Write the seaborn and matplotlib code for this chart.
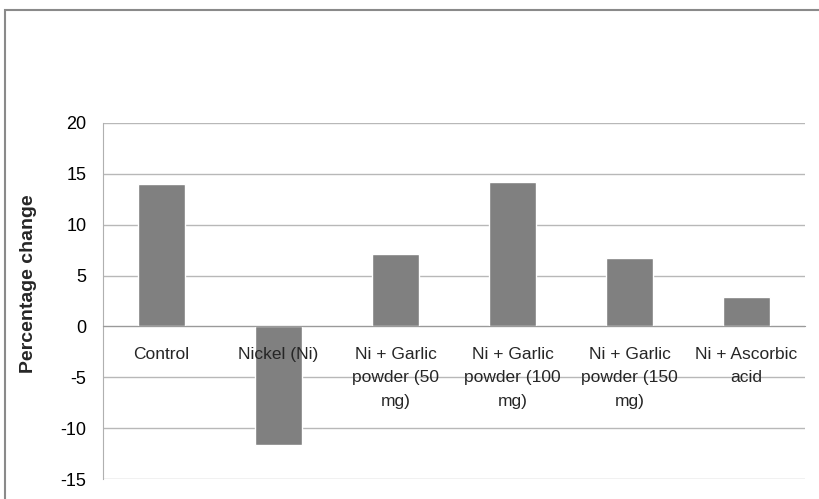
import matplotlib
matplotlib.use("Agg")
import matplotlib.pyplot as plt
import seaborn as sns
import pandas as pd
from matplotlib.patches import Rectangle
from matplotlib.ticker import FixedLocator

categories = ["Control", "Nickel (Ni)", "Ni + Garlic\npowder (50\nmg)",
              "Ni + Garlic\npowder (100\nmg)", "Ni + Garlic\npowder (150\nmg)",
              "Ni + Ascorbic\nacid"]
values = [14.0, -11.7, 7.1, 14.2, 6.7, 2.9]
yticks = [-15, -10, -5, 0, 5, 10, 15, 20]
ylabel = "Percentage change"

sns.set_style("white")
plt.rcParams['font.family'] = ['Liberation Sans', 'DejaVu Sans']

df = pd.DataFrame({"cat": categories, "val": values})

fig = plt.figure(figsize=(8.2, 4.99), dpi=100)
ax = fig.add_axes([103/820, 1-479/499, (805-103)/820, (479-123)/499])

sns.barplot(data=df, x="cat", y="val", color="#808080", saturation=1,
            width=0.4, ax=ax, zorder=3)

ax.set_ylim(-15, 20)
ax.set_xlim(-0.5, len(categories)-0.5)
ax.set_yticks(yticks)
ax.set_yticklabels([str(t) for t in yticks], fontsize=13, color="#000000")
ax.grid(axis="y", color="#b8b8b8", linewidth=1.0, zorder=0)
ax.set_axisbelow(True)

for s in ["top", "right"]:
    ax.spines[s].set_visible(False)
ax.spines["left"].set_color("#b0b0b0")
ax.spines["left"].set_zorder(4)
ax.spines["bottom"].set_position(("data", 0))
ax.spines["bottom"].set_color("#9a9a9a")
ax.spines["bottom"].set_zorder(4)

ax.tick_params(axis="y", length=6, width=1, color="#b0b0b0", pad=6, direction="out")
ax.tick_params(axis="x", which="major", length=0, pad=15, labelsize=12.5)
ax.xaxis.set_minor_locator(FixedLocator([i - 0.5 for i in range(len(categories)+1)]))
ax.tick_params(axis="x", which="minor", length=5, width=1, color="#9a9a9a", direction="out")
ax.xaxis.set_zorder(6)
for lab in ax.get_xticklabels():
    lab.set_linespacing(1.68)
    lab.set_verticalalignment("top")

ax.set_xlabel("")
ax.set_ylabel(ylabel, fontsize=14, fontweight="bold")
ax.yaxis.set_label_coords(-(103-37)/702, (479-284)/356)

fig.patches.append(Rectangle((5/820, -0.1), 2.0, 1 - 10/499 + 0.1,
                             transform=fig.transFigure, fill=False,
                             edgecolor="#8a8a8a", linewidth=1.5))

fig.savefig("out.png", dpi=100)
